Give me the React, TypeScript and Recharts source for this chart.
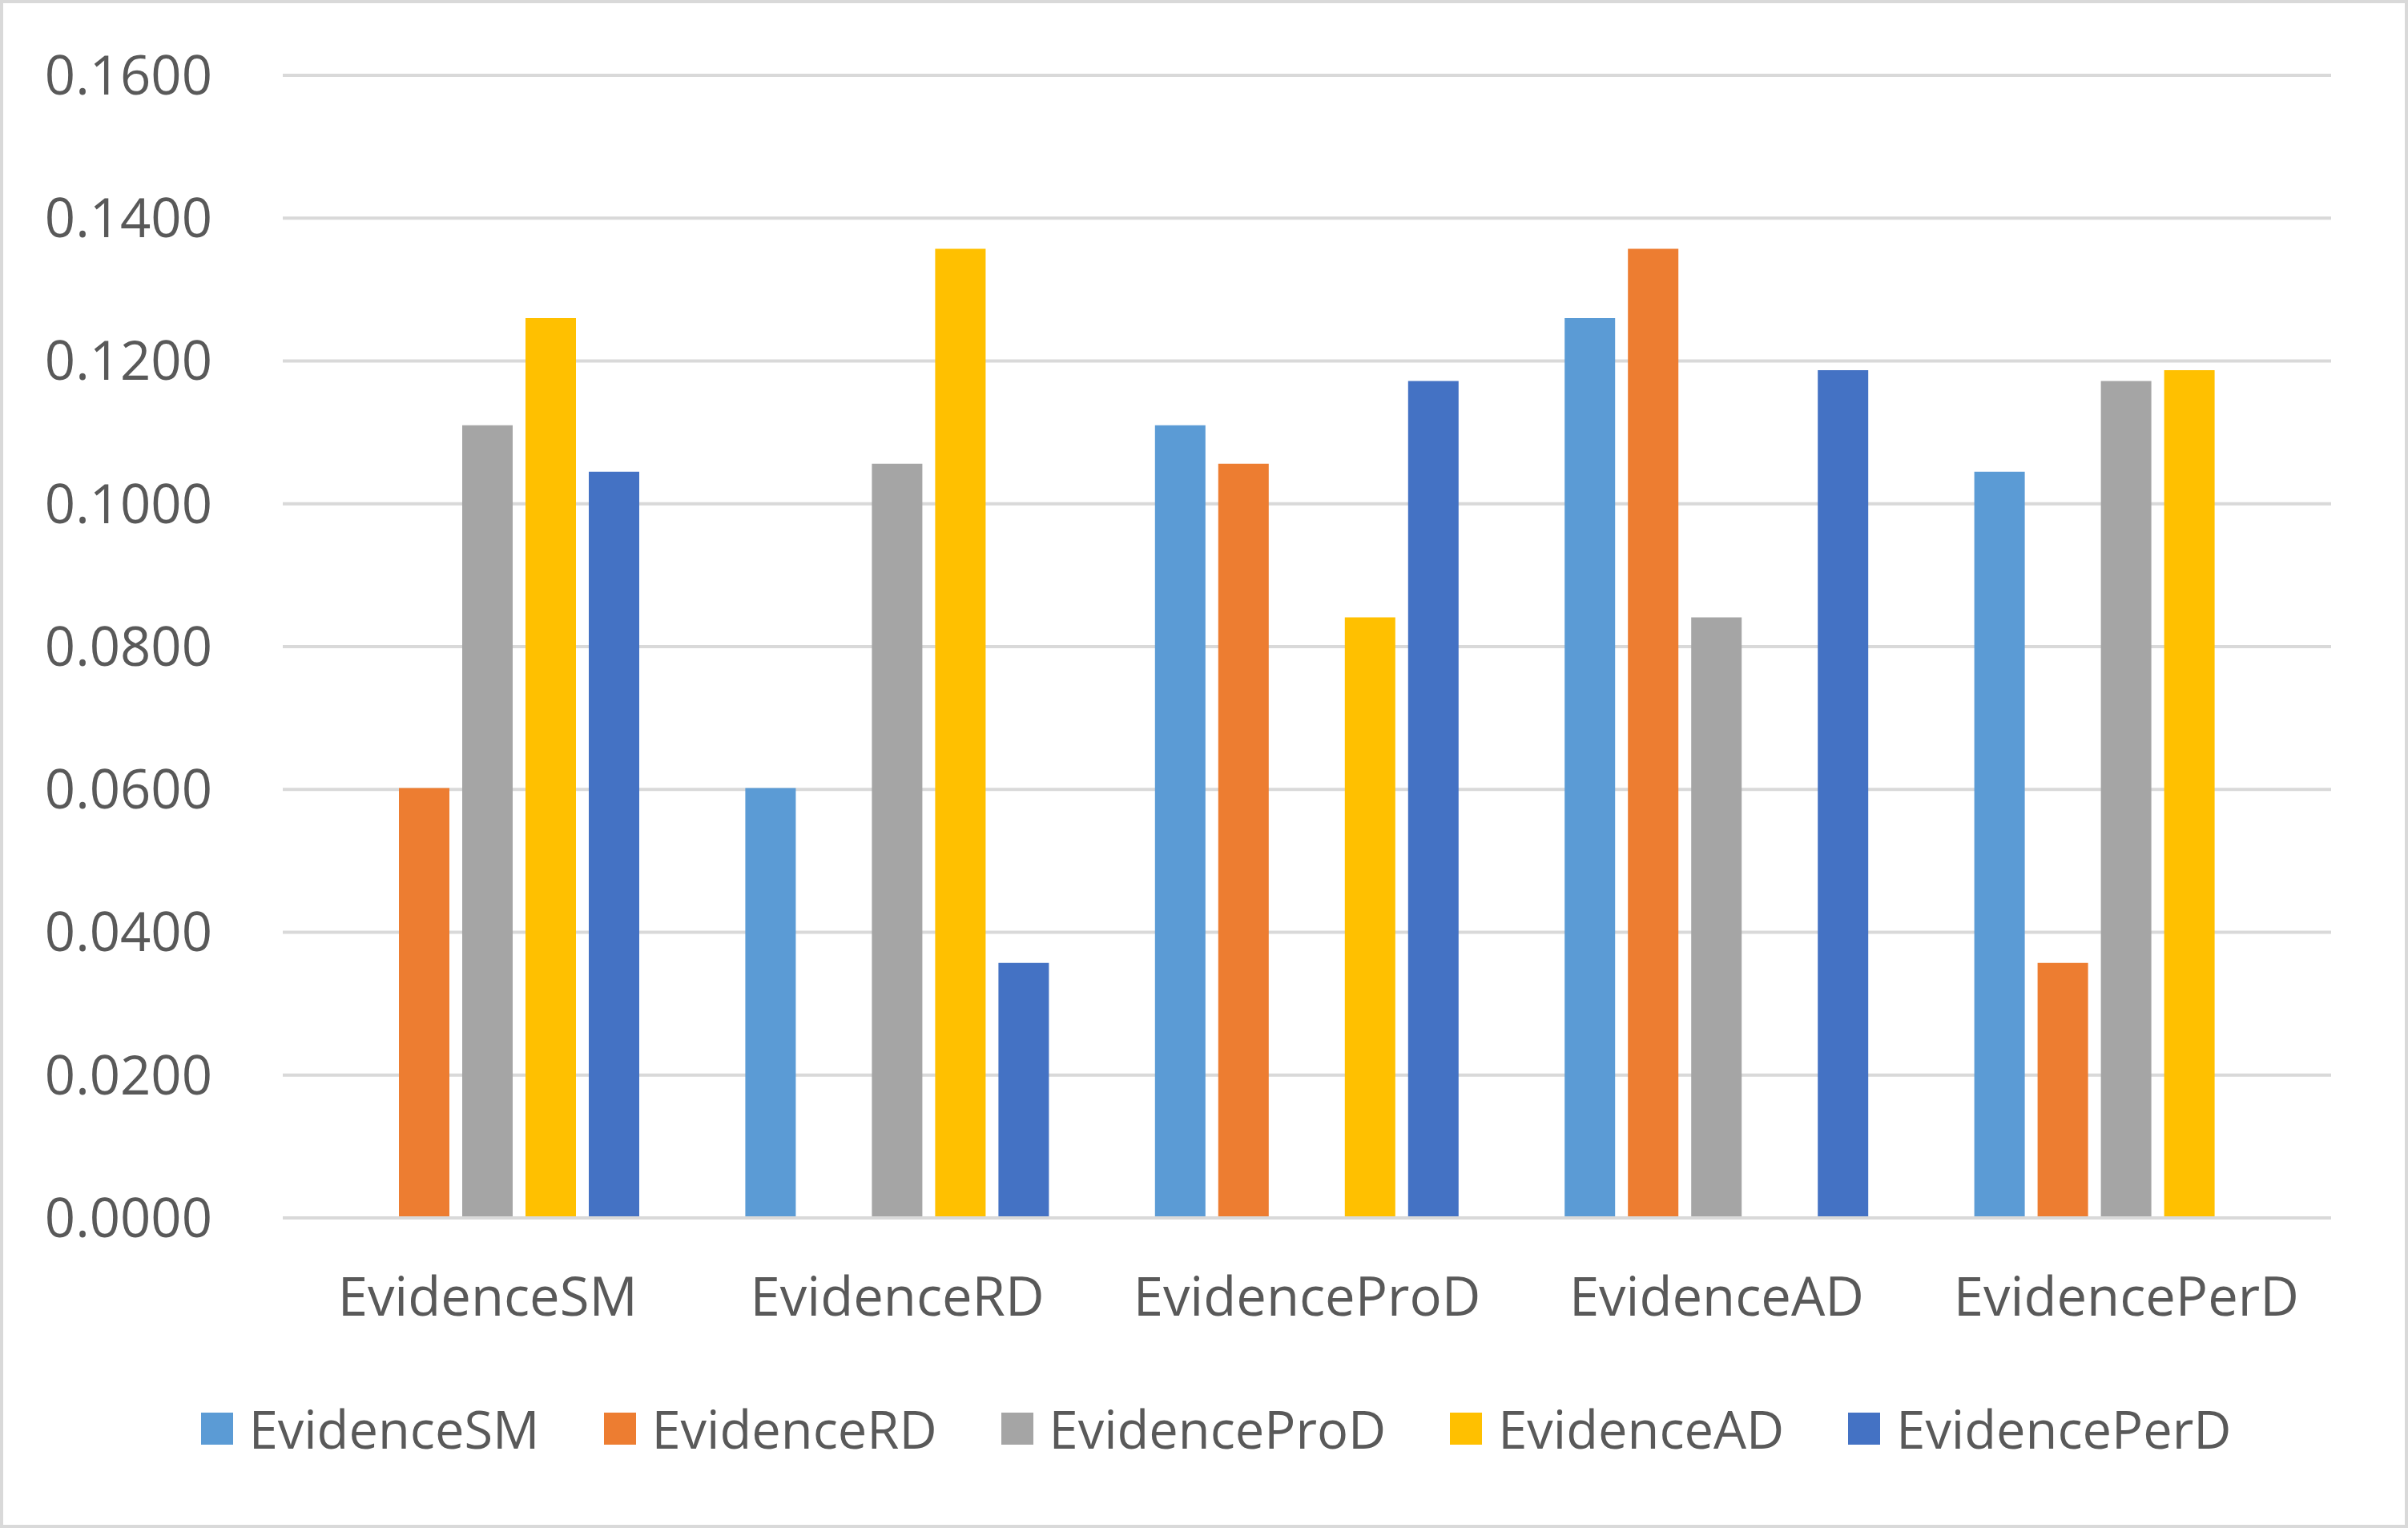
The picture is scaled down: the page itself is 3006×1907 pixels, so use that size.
import React from "react";
import { BarChart, Bar, XAxis, YAxis, CartesianGrid, Legend } from "recharts";

const categories = ["EvidenceSM", "EvidenceRD", "EvidenceProD", "EvidenceAD", "EvidencePerD"];
const seriesNames = ["EvidenceSM", "EvidenceRD", "EvidenceProD", "EvidenceAD", "EvidencePerD"];
const seriesColors = ["#5B9BD5", "#ED7D31", "#A5A5A5", "#FFC000", "#4472C4"];

const evidenceSM = [0, 0.0602, 0.111, 0.126, 0.1045];
const evidenceRD = [0.0602, 0, 0.1056, 0.1357, 0.0357];
const evidenceProD = [0.111, 0.1056, 0, 0.0841, 0.1172];
const evidenceAD = [0.126, 0.1357, 0.0841, 0, 0.1187];
const evidencePerD = [0.1045, 0.0357, 0.1172, 0.1187, 0];

const yTicks = [0, 0.02, 0.04, 0.06, 0.08, 0.1, 0.12, 0.14, 0.16];

const seriesValues = [evidenceSM, evidenceRD, evidenceProD, evidenceAD, evidencePerD];

const data = categories.map((c, i) => {
  const row: Record<string, any> = { name: c };
  seriesNames.forEach((s, j) => {
    row[s] = seriesValues[j][i];
  });
  return row;
});

const FONT = "'Open Sans', 'DejaVu Sans', sans-serif";
const TEXT = "#595959";
const FS = 67;

const LegendContent = () => (
  <div
    style={{
      height: 226,
      display: "flex",
      alignItems: "center",
      justifyContent: "center",
      fontFamily: FONT,
      fontSize: 65,
      color: TEXT,
      paddingLeft: 126,
      boxSizing: "border-box",
    }}
  >
    {seriesNames.map((s, i) => (
      <div key={s} style={{ display: "flex", alignItems: "center", marginRight: i < seriesNames.length - 1 ? 80 : 0 }}>
        <div style={{ width: 40, height: 40, background: seriesColors[i], marginRight: 20 }} />
        <span style={{ lineHeight: 1 }}>{s}</span>
      </div>
    ))}
  </div>
);

export default function App() {
  return (
    <div style={{ position: "absolute", left: 0, top: 0, width: 3006, height: 1907, background: "#fff" }}>
      <BarChart
        width={3006}
        height={1907}
        data={data}
        margin={{ top: 94, right: 96, left: 0, bottom: 11 }}
        barSize={63}
        barGap={16}
      >
        <CartesianGrid vertical={false} stroke="#d9d9d9" strokeWidth={4} />
        <XAxis
          dataKey="name"
          height={150}
          axisLine={{ stroke: "#d9d9d9", strokeWidth: 4 }}
          tickLine={false}
          tickSize={0}
          tickMargin={74}
          tick={{ fill: TEXT, fontSize: FS, fontFamily: FONT }}
          interval={0}
        />
        <YAxis
          width={353}
          domain={[0, 0.16]}
          ticks={yTicks}
          axisLine={false}
          tickLine={false}
          tickSize={0}
          tickMargin={88}
          tickFormatter={(v: number) => v.toFixed(4)}
          tick={{ fill: TEXT, fontSize: FS, fontFamily: FONT }}
        />
        <Legend verticalAlign="bottom" content={<LegendContent />} />
        {seriesNames.map((s, i) => (
          <Bar key={s} dataKey={s} fill={seriesColors[i]} isAnimationActive={false} />
        ))}
      </BarChart>
      <div
        style={{
          position: "absolute",
          left: 0,
          top: 0,
          width: 3006,
          height: 1907,
          boxSizing: "border-box",
          border: "4px solid #d9d9d9",
          pointerEvents: "none",
        }}
      />
    </div>
  );
}
